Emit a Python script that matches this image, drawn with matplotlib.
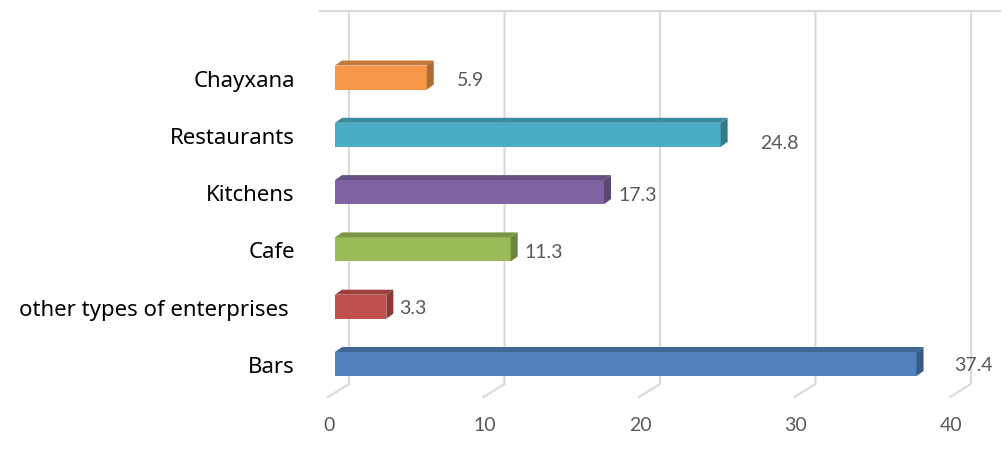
import numpy as np
import matplotlib.pyplot as plt
from matplotlib.patches import Polygon
from matplotlib.transforms import ScaledTranslation

# data, bottom to top
categories = ['Bars', 'other types of enterprises ', 'Cafe', 'Kitchens', 'Restaurants', 'Chayxana']
values = [37.4, 3.3, 11.3, 17.3, 24.8, 5.9]
x_ticks = [0, 10, 20, 30, 40]

colors = ['#4F81BD', '#C0504D', '#9BBB59', '#8064A2', '#4BACC6', '#F79646']
tops = ['#3E6796', '#9A3F3C', '#7C9648', '#665083', '#3B8A9F', '#C67838']
sides = ['#375B86', '#893836', '#6E8540', '#5A4774', '#357B8E', '#B06B32']
# label offsets in pixels (dx, dy) from the bar end
lab_off = [(31, -1), (6, -1), (7, -2), (7, -2), (33, -8), (23, -2)]

W, H = 1008, 464
fig = plt.figure(figsize=(W / 100, H / 100), dpi=100)
x0, x1 = 335, 957      # pixel positions of 0 and 40
ytop, ybot = 12, 398   # pixel rows (from top)
ax = fig.add_axes([x0 / W, (H - ybot) / H, (x1 - x0) / W, (ybot - ytop) / H])
pxx = (x1 - x0) / 40.0
c0, step = 365, 57.3
ax.set_xlim(0, 40)
ax.set_ylim((c0 - ybot) / step, (c0 - ytop) / step)
pxy = step

def dx(p):
    return p / pxx

def dy(p):
    return p / pxy

# back wall grid
yb = (c0 - 385) / step
yt = (c0 - ytop) / step
yf = (c0 - ybot) / step
for v in x_ticks:
    ax.plot([v + dx(14), v + dx(14), v - dx(7)], [yt, yb, yf], color='#D9D9D9',
            lw=1.5, clip_on=False, zorder=1)
ax.plot([dx(-15), dx(1000 - x0)], [yt, yt], color='#D9D9D9', lw=1.5, clip_on=False, zorder=1)

bh = 24 / pxy
ddx, ddy = dx(7), dy(5)
for i, v in enumerate(values):
    yl, yh = i - bh / 2, i + bh / 2
    ax.barh(i, v, height=bh, color=colors[i], zorder=3)
    ax.add_patch(Polygon([(0, yh), (v, yh), (v + ddx, yh + ddy), (ddx, yh + ddy)],
                         closed=True, color=tops[i], zorder=3, lw=0))
    ax.add_patch(Polygon([(v, yl), (v, yh), (v + ddx, yh + ddy), (v + ddx, yl + ddy)],
                         closed=True, color=sides[i], zorder=3, lw=0))
    ax.annotate(f'{v}', (v + ddx, i), xytext=lab_off[i], textcoords='offset pixels',
                ha='left', va='center', fontsize=14, color='#595959', family='Lato')

ax.set_yticks(range(len(categories)))
ax.set_yticklabels(categories, fontsize=16, family='Noto Sans', color='black')
ax.set_xticks(x_ticks)
ax.set_xticklabels([str(t) for t in x_ticks], fontsize=14, family='Lato', color='#595959')
ax.tick_params(axis='y', length=0, pad=29)
ax.tick_params(axis='x', length=0, pad=14)
off = ScaledTranslation(-6 / 100, 0, fig.dpi_scale_trans)
for lab in ax.get_xticklabels():
    lab.set_transform(lab.get_transform() + off)
for s in ax.spines.values():
    s.set_visible(False)
ax.set_facecolor('none')

fig.savefig('out.png', dpi=100)
